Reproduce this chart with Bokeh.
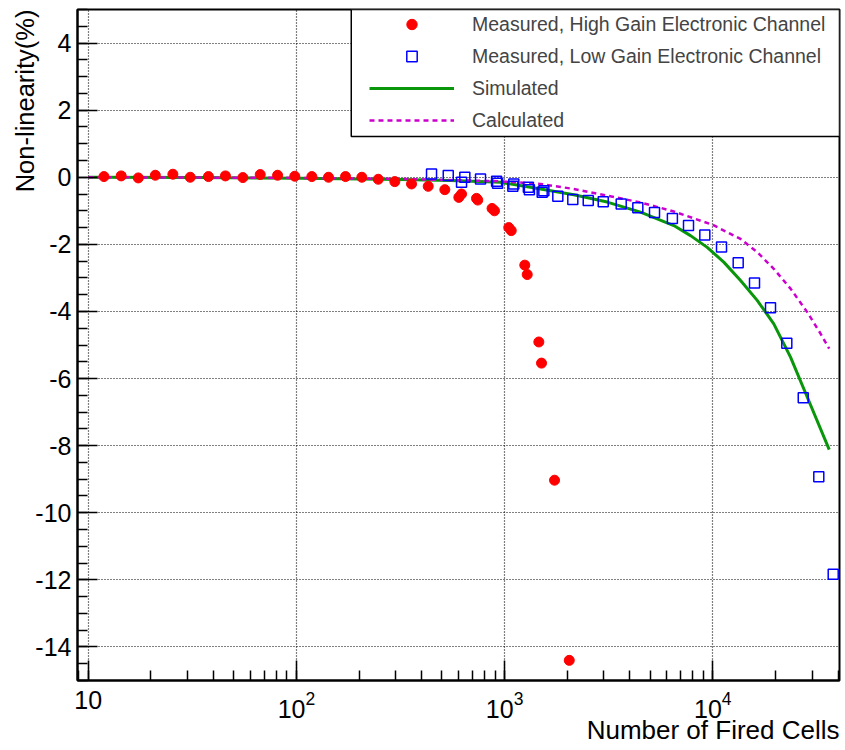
from bokeh.plotting import figure
from bokeh.models import (Range1d, LogTicker, LogTickFormatter, SingleIntervalTicker,
                          Legend, LegendItem, BoxAnnotation, Title, CustomJSTickFormatter)
from bokeh.embed import file_html
from bokeh.resources import INLINE

# ---- data ----
high_gain_x = [11.9, 14.4, 17.4, 21.0, 25.5, 30.9, 37.8, 45.6, 55.3, 67.0, 81.2, 98.2,
               118.6, 142.6, 172.1, 206.2, 247.2, 296.9, 357.1, 429.5, 516.2, 602.6, 620.9,
               732.8, 743, 870, 894, 1047, 1076, 1250, 1284, 1460, 1504, 1737, 2044]
high_gain_y = [0.02, 0.04, -0.02, 0.06, 0.09, 0.0, 0.02, 0.04, -0.01, 0.08, 0.06, 0.03,
               0.02, 0.0, 0.02, 0.0, -0.06, -0.13, -0.2, -0.27, -0.37, -0.6, -0.5,
               -0.63, -0.68, -0.93, -1.0, -1.5, -1.59, -2.62, -2.9, -4.91, -5.54, -9.03, -14.4]

low_gain_x = [445.6, 536, 621, 644, 766, 915, 925, 1095, 1107, 1300, 1315, 1515, 1543,
              1801, 2126, 2521, 2976, 3631, 4363, 5248, 6395, 7643, 9154, 11010, 13240,
              15860, 18930, 22670, 27190, 32290, 37870]
low_gain_y = [0.1, 0.05, -0.15, 0.0, -0.05, -0.12, -0.18, -0.27, -0.2, -0.3, -0.37, -0.45, -0.4,
              -0.57, -0.66, -0.69, -0.73, -0.8, -0.91, -1.05, -1.23, -1.44, -1.72, -2.08, -2.55,
              -3.15, -3.89, -4.95, -6.57, -8.93, -11.83]

simulated_x = [10, 34.6, 104.6, 316, 550, 955.7, 1487.6, 2150, 3111, 4496, 6496, 7815,
               9400, 11290, 13590, 16340, 19630, 23620, 28410, 36240]
simulated_y = [0.0, -0.01, -0.03, -0.07, -0.1, -0.15, -0.35, -0.52, -0.74, -1.04, -1.44, -1.74,
               -2.09, -2.53, -3.08, -3.67, -4.37, -5.36, -6.55, -8.12]

calculated_x = [10, 34.6, 104.6, 316, 955.7, 1487.6, 2150, 3111, 4496, 6496, 10000, 13590,
                16340, 19630, 23620, 28410, 32920, 36240]
calculated_y = [0.0, -0.01, -0.02, -0.05, -0.12, -0.2, -0.35, -0.55, -0.75, -1.02, -1.42, -1.84,
                -2.23, -2.73, -3.32, -4.02, -4.66, -5.11]

legend_labels = ["Measured, High Gain Electronic Channel",
                 "Measured, Low Gain Electronic Channel",
                 "Simulated", "Calculated"]
x_title = "Number of Fired Cells"
y_title = "Non-linearity(%)"

FONT = "Liberation Sans"
X_START, X_END = 8.88, 40600
Y_START, Y_END = -15, 5

p = figure(width=845, height=750, x_axis_type="log",
           x_range=Range1d(X_START, X_END), y_range=Range1d(Y_START, Y_END),
           output_backend="svg", toolbar_location=None,
           min_border_left=77, min_border_right=6, min_border_top=9, min_border_bottom=70)
p.background_fill_color = "white"
p.border_fill_color = "white"
p.outline_line_color = "black"
p.outline_line_width = 2

# axes
p.xaxis.ticker = LogTicker(num_minor_ticks=10)
p.xaxis.formatter = LogTickFormatter(min_exponent=2)
p.yaxis.ticker = SingleIntervalTicker(interval=2, num_minor_ticks=4)
p.yaxis.formatter = CustomJSTickFormatter(code="return tick.toFixed(0);")
for ax in (p.xaxis, p.yaxis):
    ax.axis_line_width = 2
    ax.axis_line_color = "black"
    ax.major_tick_in = 20
    ax.major_tick_out = 0
    ax.minor_tick_in = 10
    ax.minor_tick_out = 0
    ax.major_tick_line_width = 1.5
    ax.minor_tick_line_width = 1.5
    ax.major_tick_line_color = "black"
    ax.minor_tick_line_color = "black"
    ax.major_label_text_font = FONT
    ax.major_label_text_font_size = "25px"
    ax.major_label_text_color = "black"
p.xaxis.major_label_standoff = 10
p.yaxis.major_label_standoff = 6

for g in (p.xgrid, p.ygrid):
    g.grid_line_color = "black"
    g.grid_line_dash = "1 2"
    g.grid_line_width = 1.2
    g.grid_line_alpha = 1.0

# curves
r_sim = p.line(simulated_x, simulated_y, line_color="#0a960a", line_width=3)
r_calc = p.line(calculated_x, calculated_y, line_color="#cc00cc", line_width=2.5,
                line_dash="5 4")
# points
r_hg = p.scatter(high_gain_x, high_gain_y, marker="circle", size=10,
                 fill_color="#ff0000", line_color="#ff0000")
r_lg = p.scatter(low_gain_x, low_gain_y, marker="square", size=10, fill_color=None,
                 line_color="#0000ff", line_width=1.5)

# legend frame
box = BoxAnnotation(left=183.4, right=X_END, bottom=1.212, top=Y_END,
                    fill_color="white", fill_alpha=1.0, line_color="black", line_width=1.5,
                    line_alpha=1.0)
p.add_layout(box)

legend = Legend(items=[LegendItem(label=legend_labels[0], renderers=[r_hg]),
                       LegendItem(label=legend_labels[1], renderers=[r_lg]),
                       LegendItem(label=legend_labels[2], renderers=[r_sim]),
                       LegendItem(label=legend_labels[3], renderers=[r_calc])],
                location=(292, 547), padding=0, margin=0, spacing=6,
                glyph_width=85, glyph_height=26, label_height=26, label_standoff=18,
                label_text_font=FONT, label_text_font_size="19.5px",
                border_line_alpha=0, background_fill_alpha=0)
p.add_layout(legend)

# axis titles
p.add_layout(Title(text=x_title, align="right", standoff=-16, text_font=FONT,
                   text_font_size="26px", text_font_style="normal", text_color="black"),
             "below")
p.add_layout(Title(text=y_title, align="right", standoff=-12, text_font=FONT,
                   text_font_size="25.5px", text_font_style="normal", text_color="black"),
             "left")

open("out.html", "w").write(file_html(p, INLINE))
